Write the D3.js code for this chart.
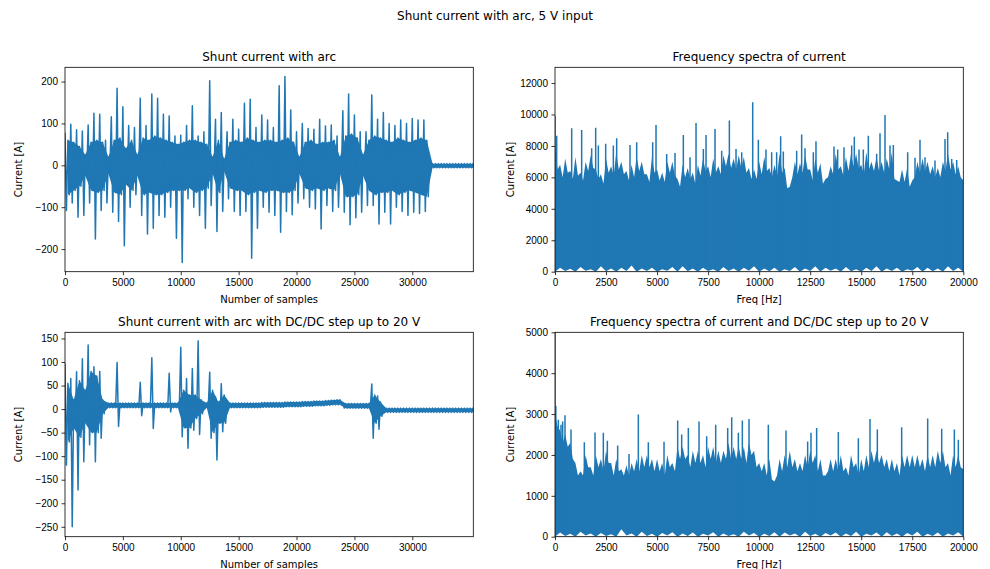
<!DOCTYPE html>
<html>
<head>
<meta charset="utf-8">
<title>Shunt current with arc, 5 V input</title>
<style>
body { margin:0; padding:0; background:#fff; }
svg { display:block; font-family:"DejaVu Sans", sans-serif; }
.tick text { font-size:10px; fill:#000; }
.tick line { stroke:#000; stroke-width:0.8px; }
.domain { display:none; }
.spine { fill:none; stroke:#000; stroke-width:0.8px; }
</style>
<script src="https://d3js.org/d3.v7.min.js"></script>
</head>
<body>
<script>
// ---- data ----
// time signals, per 500-sample bin:
//   hi / lo      = highest and lowest spike in the bin
//   coreHi/Lo    = edge of the dense part of the trace
var binSize = 500;
var nSamples = 35270;

var tlHi = [78,98,85,82,96,124,122,60,116,184,
            140,95,90,160,95,170,160,122,118,70,
            72,95,142,70,80,202,110,126,80,110,
            86,148,158,90,120,108,90,190,212,132,
            80,100,88,86,110,94,96,70,130,170,
            120,80,80,168,110,126,100,95,108,100,
            112,108,108,4,4,4,4,4,4,4,4];
var tlLo = [-108,-90,-124,-120,-90,-176,-108,-90,-112,-134,
            -192,-100,-70,-120,-164,-150,-120,-124,-100,-174,
            -232,-80,-100,-120,-150,-96,-158,-110,-80,-110,
            -120,-110,-222,-150,-100,-112,-120,-160,-110,-118,
            -90,-80,-100,-104,-152,-96,-110,-100,-112,-142,
            -125,-112,-96,-96,-140,-112,-140,-100,-110,-120,
            -112,-115,-110,-6,-6,-6,-6,-6,-6,-6,-6];
var tlCoreHi = [60,55,45,25,55,60,55,20,60,65,
                40,60,25,65,60,70,65,60,55,50,
                55,60,60,55,50,20,60,15,55,60,
                55,65,60,55,60,60,55,60,65,55,
                20,55,60,50,55,55,60,20,70,75,
                65,25,60,70,65,60,55,65,60,55,
                60,65,60,4,4,4,4,4,4,4,4];
var tlCoreLo = [-70,-60,-50,-25,-60,-65,-60,-20,-65,-70,
                -45,-60,-25,-70,-65,-70,-70,-65,-60,-60,
                -60,-55,-65,-60,-55,-20,-65,-15,-55,-60,
                -60,-70,-65,-60,-65,-60,-60,-65,-65,-60,
                -20,-55,-60,-55,-60,-55,-60,-20,-75,-75,
                -70,-25,-60,-70,-65,-65,-60,-70,-65,-60,
                -65,-70,-75,-6,-6,-6,-6,-6,-6,-6,-6];

var blHi = [97,65,79,107,136,90,80,13,13,99,
            13,13,13,57,13,109,13,13,76,13,
            131,65,86,145,13,78,26,54,13,13,
            13,13,13,13,14,14,14,14,15,15,
            15,16,16,17,17,18,19,20,12,12,
            12,12,12,53,28,2,2,2,2,2,
            2,2,2,2,2,2,2,2,2,2,2];
var blLo = [-119,-250,-172,-112,-76,-112,-62,3,3,-37,
            3,3,3,-14,3,-41,3,3,-6,3,
            -59,-83,-45,-54,3,-62,-108,-48,3,3,
            3,3,3,3,4,4,4,4,5,5,
            5,6,6,7,7,8,9,9,2,2,
            2,2,2,-62,-43,-7,-7,-7,-7,-7,
            -7,-7,-7,-7,-7,-7,-7,-7,-7,-7,-7];
var blCoreHi = [55,20,60,40,80,70,20,13,13,13,
                13,13,13,13,13,13,13,13,13,13,
                40,30,30,20,13,40,15,30,13,13,
                13,13,13,13,14,14,14,14,15,15,
                15,16,16,17,17,18,19,20,12,12,
                12,12,12,30,15,2,2,2,2,2,
                2,2,2,2,2,2,2,2,2,2,2];
var blCoreLo = [-70,-40,-60,-30,-50,-50,-10,3,3,3,
                3,3,3,3,3,3,3,3,3,3,
                -40,-40,-20,-10,3,-50,-30,-30,3,3,
                3,3,3,3,4,4,4,4,5,5,
                5,6,6,7,7,8,9,9,2,2,
                2,2,2,-30,-15,-7,-7,-7,-7,-7,
                -7,-7,-7,-7,-7,-7,-7,-7,-7,-7,-7];

// spectra: edge of the dense fill every 125 Hz, the tall spikes,
// and the lowest excursion (small gaps above zero) every 250 Hz
var levelStep = 125;
var floorStep = 250;
var trLevel = [8000,6500,6800,6000,7200,6300,6400,5900,7300,6100,6300,5800,7000,6400,7400,6600,6500,5900,6200,5600,
               7200,6300,6700,6100,7600,6500,7000,6200,6400,5800,6800,6000,7300,6400,7000,6200,6200,5700,7300,6300,
               6500,5800,6300,5700,7000,6300,7000,6100,5900,5400,6800,6000,6600,5900,6300,5600,6800,6100,7200,6400,
               6700,6000,7200,6300,6700,6200,7400,6700,7500,6600,7200,6500,7400,6600,7300,6300,6600,5900,6500,5900,
               7000,6200,7300,6400,6600,6000,6800,6100,7500,6300,6600,5300,5400,6000,7000,6200,6900,6300,7400,6500,
               6500,5800,7200,6300,6900,5600,5900,6000,6700,6200,7500,6500,6700,6100,7300,6400,7500,6700,7500,6600,
               6800,6200,7600,6500,7000,6400,7300,6400,7000,6300,7200,6500,7600,5900,5800,5700,6500,5700,6600,5400,
               5800,6000,7000,6300,7200,6400,7000,6200,6700,6000,6600,6000,7000,6400,7500,6500,7000,6200,6700,6000,5800];
var trSpikeF = [0,82,817,1306,1796,1992,2123,2482,2858,3021,3674,4001,4785,4948,5471,5879,6287,6614,6908,7267,
                7398,7838,8165,8541,8867,9145,9684,9961,10335,10613,10857,11053,11184,11837,12082,12246,12654,12784,13666,13846,
                14156,14532,14662,14891,15103,15348,15756,15920,16165,16410,16573,17275,17634,17879,18124,18614,19104,19235,19431,19676];
var trSpikeV = [9900,8650,9120,9020,7850,9160,8020,8130,8020,8490,8060,8230,8230,9330,7490,7550,8700,7280,9460,7810,
                8700,9080,7700,9610,7800,7600,10770,8400,7770,7600,7600,8610,7640,7700,8720,7850,7600,8300,7960,7770,
                7920,8020,8590,7770,7770,8650,7500,8800,9970,8020,8060,7600,7240,8400,7280,7070,8440,8870,7170,7110];
var trFloor = [0,250,40,180,0,300,60,150,0,350,30,200,0,250,50,400,0,200,40,250,
               0,150,60,300,0,350,30,200,0,250,50,150,0,300,40,200,0,250,60,350,
               0,200,30,250,0,150,50,300,0,200,40,350,0,250,60,200,0,300,30,150,
               0,250,50,350,0,200,40,250,0,150,60,300,0,250,30,200,0,350,50,250,0];

var brLevel = [3000,2700,2600,2300,2500,2200,2300,1900,1800,1500,1600,1500,2000,1700,1700,1500,2000,1700,1900,1600,
               2100,1800,1800,1500,1900,1600,1650,1500,1750,1500,1800,1600,1900,1600,2000,1700,2000,1700,1900,1600,
               1900,1600,1800,1500,2000,1700,1800,1600,2200,1900,2200,1900,2000,1700,2100,1800,2100,1800,2000,1700,
               2200,1900,2200,1800,2100,1800,2100,1900,2300,1900,2200,1900,2200,1900,2200,1800,2300,2000,2100,1700,
               1800,1600,1800,1500,1900,1400,1350,1500,1900,1600,2000,1700,2100,1700,1900,1600,1800,1600,2000,1700,
               2100,1800,2000,1600,1900,1500,1500,1600,1900,1600,1900,1600,2000,1600,1700,1500,2000,1700,1800,1500,
               1900,1600,2000,1700,2100,1800,2100,1800,2000,1700,1900,1600,1900,1600,1800,1500,2000,1700,2000,1700,
               2000,1700,2000,1700,1900,1600,2000,1700,2000,1700,2100,1800,2100,1700,1800,1500,2000,1700,2000,1700,1650];
var brSpikeF = [0,40,163,294,376,490,784,1437,1960,2368,2564,3070,3625,4083,4572,5340,6009,6205,6532,7055,
                7430,7871,8459,8655,8982,9177,9504,10449,11315,12376,12539,12817,13879,14859,15430,15789,16981,18255,18941,19561,19757];
var brSpikeV = [5200,3200,2860,2740,2820,2970,2620,2310,2550,2540,2350,2230,2020,2990,2310,2320,2840,2500,2660,2820,
                2460,2740,2660,2920,2540,2840,2880,2740,2600,2330,2540,2660,2560,2410,2880,2620,2680,2890,2640,2620,2370];
var brFloor = [0,100,20,70,0,120,30,80,0,90,20,60,0,180,30,80,0,120,20,70,
               0,90,30,110,0,80,20,100,0,70,30,110,0,80,20,60,0,120,30,90,
               0,70,20,110,0,100,30,80,0,120,20,70,0,90,30,100,0,80,20,120,
               0,70,30,100,0,110,20,80,0,90,30,120,0,70,20,100,0,80,30,110,0];

var sampleTicks = [0,5000,10000,15000,20000,25000,30000];
var freqTicks = [0,2500,5000,7500,10000,12500,15000,17500,20000];
var tlTicks = [-200,-100,0,100,200];
var trTicks = [0,2000,4000,6000,8000,10000,12000];
var blTicks = [-250,-200,-150,-100,-50,0,50,100,150];
var brTicks = [0,1000,2000,3000,4000,5000];

var blue = "#1f77b4";
var W = 990, H = 569;

var svg = d3.select("body").append("svg").attr("width", W).attr("height", H);

svg.append("text").attr("x", 495).attr("y", 20).attr("text-anchor", "middle")
   .style("font-size", "12px").text("Shunt current with arc, 5 V input");

function makePanel(id, left, top, xDomain, yDomain, xTicks, yTicks, title, xlabel, ylabel, ylabelX) {
    var w = 408.3, h = 204.4;
    var x = d3.scaleLinear().domain(xDomain).range([left, left + w]);
    var y = d3.scaleLinear().domain(yDomain).range([top + h, top]);
    svg.append("clipPath").attr("id", "clip" + id).append("rect")
       .attr("x", left).attr("y", top).attr("width", w).attr("height", h);
    var g = svg.append("g").attr("clip-path", "url(#clip" + id + ")");

    svg.append("g").attr("transform", "translate(0," + (top + h) + ")")
       .call(d3.axisBottom(x).tickValues(xTicks).tickFormat(d3.format("d")).tickSize(3.5).tickPadding(3.5));
    svg.append("g").attr("transform", "translate(" + left + ",0)")
       .call(d3.axisLeft(y).tickValues(yTicks).tickFormat(d3.format("d")).tickSize(3.5).tickPadding(3.5));

    svg.append("text").attr("x", left + w / 2).attr("y", top - 6).attr("text-anchor", "middle")
       .style("font-size", "12px").text(title);
    svg.append("text").attr("x", left + w / 2).attr("y", top + h + 31).attr("text-anchor", "middle")
       .style("font-size", "10px").text(xlabel);
    svg.append("text").attr("transform", "translate(" + ylabelX + "," + (top + h / 2) + ") rotate(-90)")
       .attr("text-anchor", "middle").attr("dy", "0.35em").style("font-size", "10px").text(ylabel);

    return {x: x, y: y, g: g, finish: function() {
        svg.append("rect").attr("class", "spine").attr("x", left).attr("y", top).attr("width", w).attr("height", h);
    }};
}

// solid core band, then the trace visits in each bin:
// spike top, spike bottom, core top, core bottom
function drawSignal(p, hi, lo, coreHi, coreLo) {
    var band = d3.area()
        .x(function(d, i) { return p.x(i * binSize + binSize / 2); })
        .y0(function(d, i) { return p.y(coreLo[i]); })
        .y1(function(d) { return p.y(d); });
    p.g.append("path").attr("d", band(coreHi)).attr("fill", blue);

    var pts = [];
    hi.forEach(function(v, i) {
        var x0 = i * binSize;
        pts.push([x0, v]);
        pts.push([x0 + binSize / 4, lo[i]]);
        pts.push([x0 + binSize / 2, coreHi[i]]);
        pts.push([x0 + 3 * binSize / 4, coreLo[i]]);
    });
    var line = d3.line().x(function(d) { return p.x(d[0]); }).y(function(d) { return p.y(d[1]); });
    p.g.append("path").attr("d", line(pts))
       .attr("fill", "none").attr("stroke", blue).attr("stroke-width", 1.5).attr("stroke-linejoin", "round");
}

function drawSpectrum(p, level, spikeF, spikeV, floor) {
    var fill = d3.area().x(function(d, i) { return p.x(i * levelStep); })
        .y0(p.y(0)).y1(function(d) { return p.y(d); });
    p.g.append("path").attr("d", fill(level)).attr("fill", blue);
    p.g.selectAll(null).data(spikeV).enter().append("line")
       .attr("x1", function(d, i) { return p.x(spikeF[i]); })
       .attr("x2", function(d, i) { return p.x(spikeF[i]); })
       .attr("y1", p.y(0))
       .attr("y2", function(d) { return p.y(d); })
       .attr("stroke", blue).attr("stroke-width", 1.5);
    var low = d3.area().x(function(d, i) { return p.x(i * floorStep); })
        .y0(p.y(0) + 2).y1(function(d) { return p.y(d); });
    p.g.append("path").attr("d", low(floor)).attr("fill", "#fff");
}

// top left: arc current
var tl = makePanel("tl", 65, 67.3, [0, nSamples], [-254, 234], sampleTicks, tlTicks,
    "Shunt current with arc", "Number of samples", "Current [A]", 18);
drawSignal(tl, tlHi, tlLo, tlCoreHi, tlCoreLo);
tl.finish();

// top right: spectrum
var tr = makePanel("tr", 555, 67.3, [0, 20000], [0, 13000], freqTicks, trTicks,
    "Frequency spectra of current", "Freq [Hz]", "Current [A]", 510.5);
drawSpectrum(tr, trLevel, trSpikeF, trSpikeV, trFloor);
tr.finish();

// bottom left: arc current with DC/DC
var bl = makePanel("bl", 65, 332.3, [0, nSamples], [-271, 163], sampleTicks, blTicks,
    "Shunt current with arc with DC/DC step up to 20 V", "Number of samples", "Current [A]", 18);
drawSignal(bl, blHi, blLo, blCoreHi, blCoreLo);
bl.finish();

// bottom right: spectrum with DC/DC
var br = makePanel("br", 555, 332.3, [0, 20000], [0, 5000], freqTicks, brTicks,
    "Frequency spectra of current and DC/DC step up to 20 V", "Freq [Hz]", "Current [A]", 510.5);
drawSpectrum(br, brLevel, brSpikeF, brSpikeV, brFloor);
br.finish();
</script>
</body>
</html>
